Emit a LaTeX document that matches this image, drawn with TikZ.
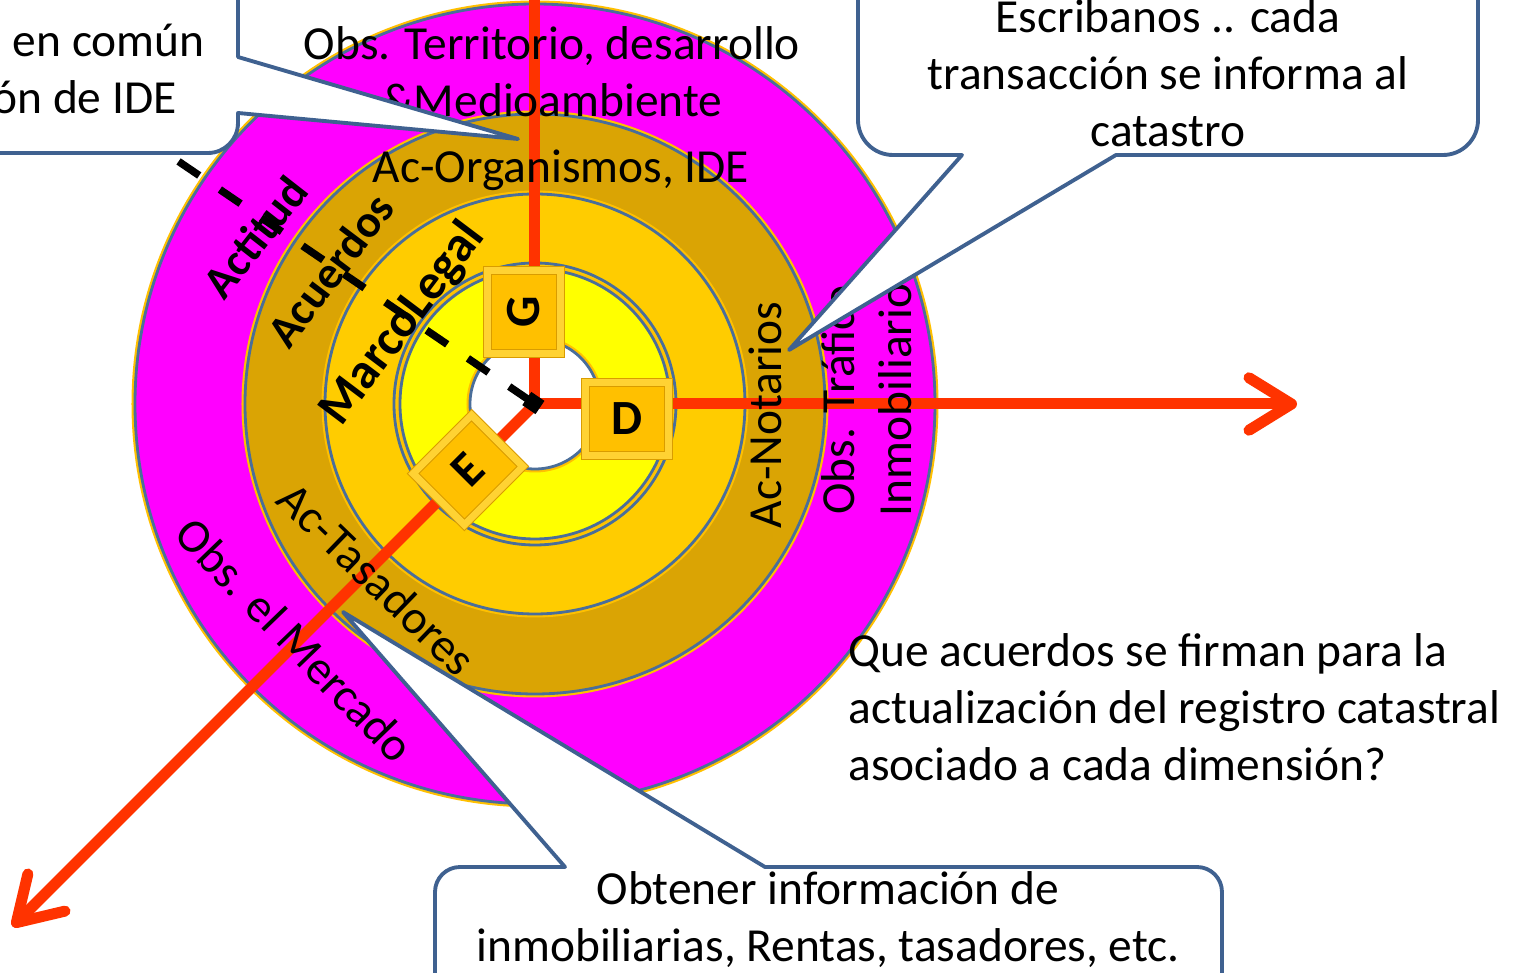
\documentclass[tikz,border=0pt]{standalone}
\usepackage{fontspec}
\setmainfont{Carlito}
\usepackage{tikz}
\usepackage{xcolor}
\usetikzlibrary{shapes, positioning, arrows.meta}

\definecolor{ringblue}{HTML}{4A6E9A}
\definecolor{ringglow}{HTML}{FFC000}
\definecolor{obsmag}{HTML}{FF00FF}
\definecolor{acgold}{HTML}{DAA404}
\definecolor{legalgold}{HTML}{FFCC00}
\definecolor{coreyellow}{HTML}{FFFF00}
\definecolor{axisred}{HTML}{FF3300}
\definecolor{keygold}{HTML}{FFC000}
\definecolor{keyedge}{HTML}{D99C00}
\definecolor{keylight}{HTML}{FFD233}
\definecolor{callblue}{HTML}{3F6190}

\begin{document}
\begin{tikzpicture}[
        ring/.style={draw=ringblue, line width=1.6pt},
        axisline/.style={draw=axisred, line width=0.22cm, line join=round},
        barb/.style={-{Straight Barb[length=0.85cm, width=1.05cm, round]}},
        keybox/.style={rectangle, draw=keyedge, line width=0.6pt, double=keylight, double distance=4pt, fill=keygold, minimum width=1.65cm, minimum height=1.45cm, inner sep=0pt, font=\bfseries\fontsize{28}{28}\selectfont},
        lbl/.style={font=\fontsize{27}{32.4}\selectfont, align=center, inner sep=0pt},
        dimlbl/.style={font=\bfseries\fontsize{26}{30}\selectfont, inner sep=0pt},
        callout/.style={draw=callblue, fill=white, line width=2.2pt, line join=round}
    ]
        \useasboundingbox (-10.7,-11.38) rectangle (19.74,8.08);
        \clip (-10.7,-11.38) rectangle (19.74,8.08);

        \coordinate (o) at (0,0);
        \coordinate (gend) at (0,8.3);
        \coordinate (dtip) at (15.24,0);
        \coordinate (etip) at (-10.45,-10.45);
        \coordinate (needle) at (0.1,-0.07);
        \coordinate (tickend) at (-7.2,4.9);
        \coordinate (ideptr) at (-0.34,5.3);
        \coordinate (notptr) at (5.08,1.08);
        \coordinate (tasptr) at (-3.84,-4.16);

        \fill[ringglow] (o) circle (8.07);
        \filldraw[ring, fill=obsmag] (o) circle (8);
        \fill[ringglow] (o) circle (5.87);
        \filldraw[ring, fill=acgold] (o) circle (5.8);
        \fill[ringglow] (o) circle (4.27);
        \filldraw[ring, fill=legalgold] (o) circle (4.2);
        \draw[ring] (o) circle (2.82);
        \fill[ringglow] (o) circle (2.77);
        \filldraw[ring, fill=coreyellow] (o) circle (2.7);
        \fill[ringglow] (o) circle (1.37);
        \filldraw[ring, fill=white] (o) circle (1.3);

        \draw[axisline] (o) -- (gend);
        \draw[axisline, barb] (o) -- (dtip);
        \draw[axisline, barb] (o) -- (etip);

        \draw[line width=0.15cm, dash pattern=on 0.5cm off 0.5cm, {Square[length=0.32cm, width=0.32cm]}-] (needle) -- (tickend);

        \node[keybox, rotate=90] (g) at (-0.22,1.84) {G};
        \node[keybox] (d) at (1.84,-0.3) {D};
        \node[keybox, rotate=45] (e) at (-1.34,-1.32) {E};

        \node[lbl] (obsterr) at (0.34,6.64) {Obs. Territorio, desarrollo\\\&Medioambiente};
        \node[lbl] (acorg) at (0.52,4.68) {Ac-Organismos, IDE};
        \node[lbl, rotate=90] (acnot) at (4.6,-0.22) {Ac-Notarios};
        \node[lbl, rotate=90] (obstraf) at (6.64,0.08) {Obs. Tráfico\\Inmobiliario};
        \node[lbl, rotate=-44] (actas) at (-3.16,-3.5) {Ac-Tasadores};
        \node[lbl, rotate=-46] (obsmerc) at (-4.8,-4.72) {Obs. el Mercado};
        \node[dimlbl, rotate=52] (actitud) at (-5.6,3.34) {Actitud};
        \node[dimlbl, rotate=53] (acuerdos) at (-4.1,2.68) {Acuerdos};
        \node[dimlbl, rotate=53, font=\bfseries\fontsize{28.5}{30}\selectfont] (marco) at (-2.64,1.6) {MarcoLegal};

        \node[lbl, align=left, anchor=west] (question) at (6.26,-6.06) {Que acuerdos se firman para la\\actualización del registro catastral\\asociado a cada dimensión?};

        \draw[callout] (-12,9) -- (-5.94,9) -- (-5.94,6.94) -- (ideptr) -- (-5.94,5.82) -- (-5.94,5.62) arc[start angle=0, end angle=-90, radius=0.6] -- (-12,5.02) -- cycle;
        \draw[callout] (6.46,9) -- (6.46,5.68) arc[start angle=180, end angle=270, radius=0.7] -- (8.54,4.98) -- (notptr) -- (11.62,4.98) -- (18.16,4.98) arc[start angle=270, end angle=360, radius=0.7] -- (18.86,9) -- cycle;
        \draw[callout] (-2,-12) -- (-2,-9.76) arc[start angle=180, end angle=90, radius=0.5] -- (0.6,-9.26) -- (tasptr) -- (4.6,-9.26) -- (13.24,-9.26) arc[start angle=90, end angle=0, radius=0.5] -- (13.74,-12) -- cycle;

        \node[lbl, anchor=east] (comun) at (-6.6,7.28) {en común};
        \node[lbl, anchor=east] (idetxt) at (-7.16,6.14) {ón de IDE};
        \node[lbl] (escribanos) at (12.66,6.62) {Escribanos .. cada\\transacción se informa al\\catastro};
        \node[lbl] (obtener) at (5.86,-10.32) {Obtener información de\\inmobiliarias, Rentas, tasadores, etc.};
    \end{tikzpicture}
\end{document}
